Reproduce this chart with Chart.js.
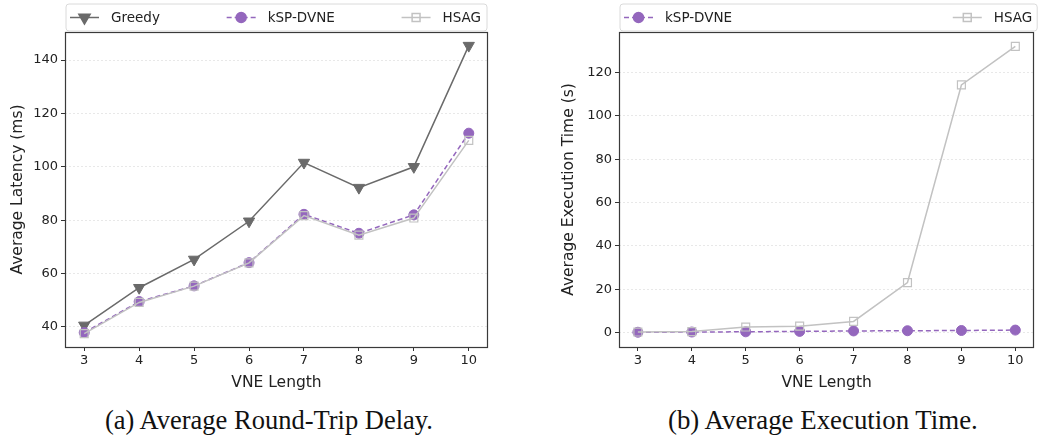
<!DOCTYPE html>
<html><head><meta charset="utf-8">
<script src="https://cdn.jsdelivr.net/npm/chart.js@4.4.0/dist/chart.umd.min.js"></script>
<style>
html,body{margin:0;padding:0;background:#fff;width:1041px;height:439px;overflow:hidden;}
#ca{position:absolute;left:0;top:0;}
#cb{position:absolute;left:520px;top:0;}
.cap{position:absolute;font-family:'Liberation Serif',serif;color:#111;white-space:nowrap;line-height:1;}
</style></head><body>
<canvas id="ca" width="520" height="400"></canvas>
<canvas id="cb" width="521" height="400"></canvas>
<div class="cap" id="capa">(a) Average Round-Trip Delay.</div>
<div class="cap" id="capb">(b) Average Execution Time.</div>
<script>
// ---- data ----
const vneLength = [3, 4, 5, 6, 7, 8, 9, 10];
const latencyGreedy = [40.6, 54.7, 65.3, 79.6, 101.6, 92.2, 100.0, 145.4];
const latencyKsp = [37.9, 49.5, 55.4, 64.1, 82.2, 75.1, 82.0, 112.6];
const latencyHsag = [37.5, 49.2, 55.3, 64.0, 81.7, 74.4, 80.8, 109.9];
const execKsp = [0.2, 0.3, 0.4, 0.6, 0.8, 0.9, 1.0, 1.2];
const execHsag = [0.3, 0.5, 2.6, 3.0, 5.2, 23.1, 114.2, 132.0];
const latencyTicks = [40, 60, 80, 100, 120, 140];
const execTicks = [0, 20, 40, 60, 80, 100, 120];

const FONT = '"DejaVu Sans", sans-serif';
const TXT = '#222';
const pts = (ys) => vneLength.map((x, i) => ({ x: x, y: ys[i] }));

const styleGreedy = {
  label: 'Greedy', borderColor: '#6a6a6a', backgroundColor: '#6a6a6a', borderWidth: 1.5,
  pointStyle: 'triangle', pointRotation: 180, pointRadius: 6.5,
  pointBackgroundColor: '#6a6a6a', pointBorderColor: '#6a6a6a', pointBorderWidth: 1, order: 3
};
const styleKsp = {
  label: 'kSP-DVNE', borderColor: '#9467bd', backgroundColor: '#9467bd', borderWidth: 1.5,
  borderDash: [5, 3], pointStyle: 'circle', pointRadius: 5,
  pointBackgroundColor: '#9467bd', pointBorderColor: '#9467bd', pointBorderWidth: 1, order: 2
};
const styleHsag = {
  label: 'HSAG', borderColor: '#c2c2c2', backgroundColor: 'rgba(0,0,0,0)', borderWidth: 1.5,
  pointStyle: 'rect', pointRadius: 5.6,
  pointBackgroundColor: 'rgba(255,255,255,0)', pointBorderColor: '#c2c2c2', pointBorderWidth: 1.2, order: 1
};

const framePlugin = {
  id: 'frame',
  afterDraw(chart) {
    const a = chart.chartArea, ctx = chart.ctx;
    ctx.save();
    ctx.strokeStyle = '#3a3a3a';
    ctx.lineWidth = 1.2;
    ctx.strokeRect(Math.round(a.left) + 0.5, Math.round(a.top) + 0.5,
      Math.round(a.right) - Math.round(a.left) - 1, Math.round(a.bottom) - Math.round(a.top));
    ctx.restore();
  }
};

const legendPlugin = {
  id: 'boxLegend',
  afterDraw(chart) {
    const ctx = chart.ctx, a = chart.chartArea;
    const L = a.left + 1, R = a.right + (chart.options.plugins.boxLegend.extendRight || -1), T = 4, B = 31;
    ctx.save();
    ctx.beginPath();
    const r = 3;
    ctx.moveTo(L + r, T); ctx.lineTo(R - r, T); ctx.quadraticCurveTo(R, T, R, T + r);
    ctx.lineTo(R, B - r); ctx.quadraticCurveTo(R, B, R - r, B);
    ctx.lineTo(L + r, B); ctx.quadraticCurveTo(L, B, L, B - r);
    ctx.lineTo(L, T + r); ctx.quadraticCurveTo(L, T, L + r, T);
    ctx.closePath();
    ctx.fillStyle = '#fff'; ctx.fill();
    ctx.strokeStyle = '#dadada'; ctx.lineWidth = 1; ctx.stroke();

    ctx.font = '13.5px ' + FONT;
    const ds = chart.data.datasets;
    const hl = 29, gap = 12, padL = 4, padR = chart.options.plugins.boxLegend.padR || 6;
    const widths = ds.map(d => hl + gap + ctx.measureText(d.label).width);
    const sum = widths.reduce((s, w) => s + w, 0);
    const space = ds.length > 1 ? ((R - padR) - (L + padL) - sum) / (ds.length - 1) : 0;
    const cy = (T + B) / 2;
    let x = L + padL;
    ds.forEach((d, i) => {
      ctx.save();
      ctx.strokeStyle = d.borderColor; ctx.lineWidth = d.borderWidth;
      ctx.setLineDash(d.borderDash || []);
      ctx.beginPath(); ctx.moveTo(x, cy); ctx.lineTo(x + hl, cy); ctx.stroke();
      ctx.setLineDash([]);
      ctx.fillStyle = d.pointBackgroundColor; ctx.strokeStyle = d.pointBorderColor;
      Chart.helpers.drawPoint(ctx, { pointStyle: d.pointStyle, rotation: d.pointRotation || 0,
        radius: d.pointRadius, borderWidth: d.pointBorderWidth }, x + hl / 2, cy);
      ctx.restore();
      ctx.fillStyle = TXT; ctx.textBaseline = 'middle'; ctx.textAlign = 'left';
      ctx.fillText(d.label, x + hl + gap, cy + 0.5);
      x += widths[i] + space;
    });
    ctx.restore();
  }
};

function makeChart(id, datasets, yMin, yMax, yTicks, yTitle, yWidth, padRight, titlePad, legendOpts) {
  return new Chart(document.getElementById(id), {
    type: 'line',
    data: { datasets: datasets },
    options: {
      responsive: false, animation: false,
      layout: { padding: { top: 32, right: padRight, left: 0, bottom: 0 } },
      plugins: { legend: { display: false }, tooltip: { enabled: false }, boxLegend: legendOpts },
      scales: {
        x: {
          type: 'linear', min: 2.65, max: 10.35,
          afterBuildTicks: s => { s.ticks = vneLength.map(v => ({ value: v })); },
          afterFit: s => { s.height = 53; },
          ticks: { font: { family: FONT, size: 13 }, color: TXT, padding: 2, maxRotation: 0, autoSkip: false },
          grid: { drawOnChartArea: false, drawTicks: true, tickLength: 4, tickColor: '#333', tickWidth: 1 },
          border: { display: false },
          title: { display: true, text: 'VNE Length', font: { family: FONT, size: 15.5 }, color: TXT, padding: { top: 0, bottom: 8 } }
        },
        y: {
          type: 'linear', min: yMin, max: yMax,
          afterBuildTicks: s => { s.ticks = yTicks.map(v => ({ value: v })); },
          afterFit: s => { s.width = yWidth; },
          ticks: { font: { family: FONT, size: 13 }, color: TXT, padding: 3 },
          grid: { color: '#e2e2e2', lineWidth: 0.8, drawTicks: true, tickLength: 4, tickColor: '#333', tickWidth: 1 },
          border: { display: false, dash: [2, 2] },
          title: { display: true, text: yTitle, font: { family: FONT, size: 15.5 }, color: TXT, padding: { top: titlePad, bottom: 0 } }
        }
      }
    },
    plugins: [framePlugin, legendPlugin]
  });
}

makeChart('ca', [
  Object.assign({ data: pts(latencyGreedy) }, styleGreedy),
  Object.assign({ data: pts(latencyKsp) }, styleKsp),
  Object.assign({ data: pts(latencyHsag) }, styleHsag)
], 32.5, 150.5, latencyTicks, 'Average Latency (ms)', 65, 32, 9, { padR: 6, extendRight: -1 });

makeChart('cb', [
  Object.assign({ data: pts(execKsp) }, styleKsp),
  Object.assign({ data: pts(execHsag) }, styleHsag)
], -6.6, 138.6, execTicks, 'Average Execution Time (s)', 99, 1, 40, { padR: 5, extendRight: 3 });

// captions: fit to their width in the reference
function placeCap(id, left, width, centerY) {
  const el = document.getElementById(id);
  el.style.fontSize = '20px';
  const w = el.getBoundingClientRect().width;
  const size = 20 * width / w;
  el.style.fontSize = size + 'px';
  el.style.left = left + 'px';
  el.style.top = (centerY - size * 0.5) + 'px';
}
placeCap('capa', 105, 328, 420);
placeCap('capb', 668, 310, 420);
</script>
</body></html>
